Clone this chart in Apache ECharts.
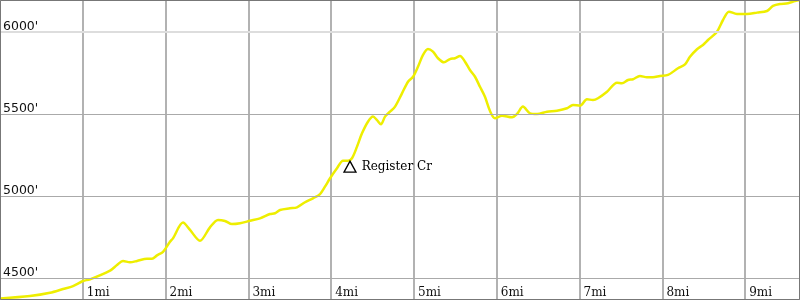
<!DOCTYPE html>
<html>
<head>
<meta charset="utf-8">
<script src="https://cdn.jsdelivr.net/npm/echarts@6/dist/echarts.min.js"></script>
<style>html,body{margin:0;padding:0;background:#fff}#c{width:800px;height:300px}</style>
</head>
<body>
<div id="c"></div>
<script>
// distance along trail (miles)
var miles = [0,0.362,0.604,0.761,0.882,1.002,1.087,1.329,1.413,1.486,1.570,1.655,1.775,1.836,1.896,1.969,2.053,2.089,2.210,2.295,2.415,2.536,2.633,2.717,2.802,2.899,3.019,3.140,3.261,3.321,3.382,3.502,3.587,3.684,3.780,3.865,3.925,3.986,4.070,4.143,4.203,4.251,4.312,4.372,4.444,4.505,4.553,4.601,4.650,4.710,4.771,4.855,4.928,4.988,5.048,5.109,5.169,5.229,5.290,5.362,5.435,5.495,5.556,5.616,5.676,5.737,5.797,5.857,5.918,5.978,6.063,6.184,6.244,6.316,6.401,6.486,6.606,6.727,6.848,6.920,7.005,7.089,7.162,7.222,7.331,7.452,7.512,7.585,7.645,7.729,7.814,7.886,7.971,8.068,8.188,8.273,8.333,8.418,8.490,8.551,8.659,8.732,8.804,8.901,9.022,9.143,9.263,9.336,9.420,9.517,9.601,9.662];
// elevation (feet)
var elevation = [4375,4390,4410,4433,4451,4482,4492,4545,4579,4604,4596,4604,4618,4618,4638,4660,4721,4742,4838,4793,4727,4809,4854,4848,4829,4834,4849,4864,4890,4895,4915,4925,4931,4962,4986,5012,5057,5108,5169,5215,5215,5230,5301,5382,5453,5484,5463,5437,5484,5514,5545,5626,5697,5727,5788,5860,5896,5880,5840,5815,5835,5840,5854,5819,5768,5727,5666,5605,5518,5474,5490,5480,5500,5545,5504,5500,5514,5520,5535,5555,5551,5590,5585,5596,5636,5691,5687,5707,5712,5732,5724,5724,5732,5738,5779,5803,5849,5895,5921,5951,6002,6073,6124,6110,6110,6118,6128,6159,6171,6175,6189,6195];
// elevation gridline ticks
var elevTicks = [4500,5000,5500,6000];
// waypoint
var wpMile = [4.227];
var wpElev = [5179];
var wpName = ['Register Cr'];

var xMin = 0, xMax = 9.662, yMin = 4366, yMax = 6195;

var chart = echarts.init(document.getElementById('c'), null, {renderer:'canvas'});
var lineData = miles.map(function(m,i){return [m, elevation[i]];});
var wpData = wpMile.map(function(m,i){return {value:[m, wpElev[i]], name: wpName[i]};});

chart.setOption({
  animation:false,
  backgroundColor:'#fff',
  grid:{left:0,right:0,top:0,bottom:0,containLabel:false},
  xAxis:{
    type:'value', min:xMin, max:xMax, interval:1,
    axisLine:{show:false}, axisTick:{show:false},
    splitLine:{show:true, lineStyle:{color:'#999', width:1.5}},
    axisLabel:{inside:true, showMinLabel:false, showMaxLabel:false, margin:1,
      align:'left', verticalAlign:'bottom', padding:[0,0,0,4],
      fontFamily:'DejaVu Serif', fontSize:12, color:'#111',
      formatter:function(v){return Math.round(v)===v ? v+'mi' : '';}}
  },
  yAxis:{
    type:'value', min:yMin, max:yMax,
    axisLine:{show:false}, axisTick:{show:false}, axisLabel:{show:false},
    splitLine:{show:false}
  },
  series:[
    {
      type:'line', data:[], z:1, silent:true,
      markLine:{
        silent:true, symbol:['none','none'], animation:false,
        data: elevTicks.map(function(t){
          var top = t===6000;
          return {yAxis:t, lineStyle:{color: top?'#ddd':'#aaa', width: top?2:1, type:'solid'}};
        }),
        label:{show:true, position:'insideStartTop', distance:[3,-1],
          formatter:function(p){return p.value+"'";},
          fontFamily:'DejaVu Sans', fontSize:12.5, color:'#111'}
      }
    },
    {
      type:'line', data:lineData, z:3, smooth:0.3, showSymbol:false, silent:true,
      lineStyle:{color:'#eeee00', width:2.5}
    },
    {
      type:'scatter', data:wpData, z:4, symbol:'triangle', symbolSize:[12,11],
      itemStyle:{color:'rgba(255,255,255,0)', borderColor:'#000', borderWidth:1.3, opacity:1},
      label:{show:true, position:'right', distance:5, formatter:'{b}',
        fontFamily:'DejaVu Serif', fontSize:12, color:'#000'}
    }
  ],
  graphic:[{type:'rect', z:100, silent:true, shape:{x:0.5,y:0.5,width:799,height:299},
    style:{fill:null, stroke:'#777', lineWidth:1}}]
});
</script>
</body>
</html>
